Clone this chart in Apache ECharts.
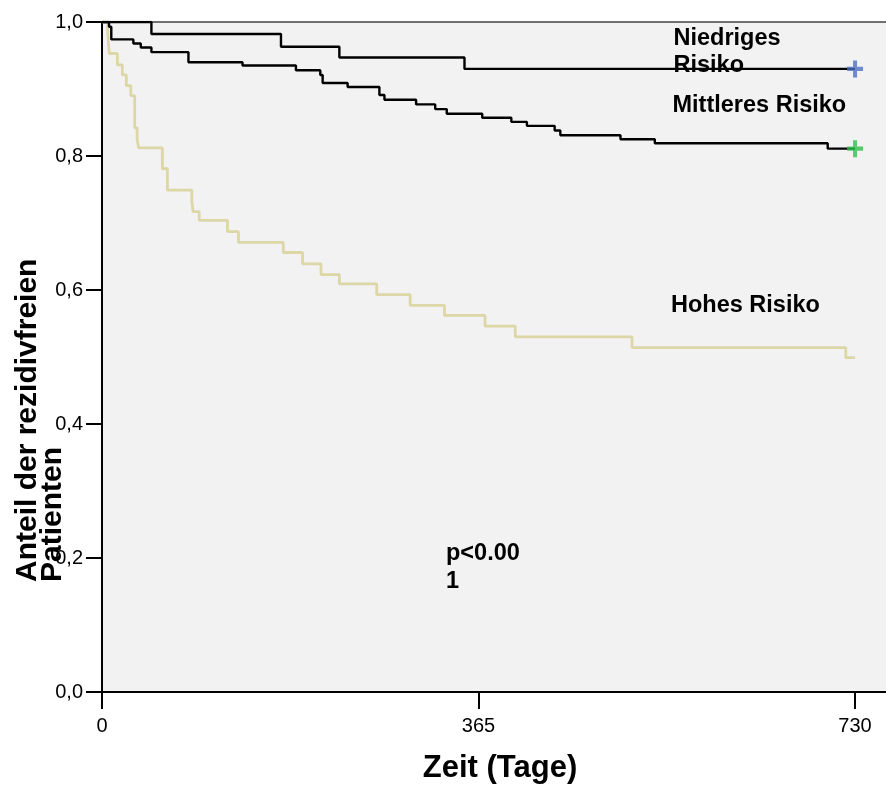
<!DOCTYPE html>
<html lang="de">
<head>
    <meta charset="UTF-8">
    <title>Rezidivfreies Überleben</title>
    <script type="text/javascript" src="https://cdn.jsdelivr.net/npm/echarts@6/dist/echarts.min.js"></script>
    <style>
        html, body { margin: 0; padding: 0; background: #fff; }
        #chart { width: 886px; height: 788px; }
    </style>
</head>
<body>
<div id="chart"></div>
<script>
    // Achsen
    var xTicks = [0, 365, 730];
    var xMax = 760;

    // Niedriges Risiko
    var lowDays = [0, 47.9, 173.5, 230.1, 351.4, 730];
    var lowSurv = [1, 0.982, 0.963, 0.947, 0.930, 0.930];

    // Mittleres Risiko
    var midDays = [0, 6.8, 9.0, 30.4, 37.6, 47.9, 83.8, 136.2, 188.0, 211.6, 213.9, 238.1, 268.9, 273.8,
                   304.5, 323.0, 334.2, 368.6, 396.8, 411.9, 438.8, 444.3, 502.6, 535.9, 703.5, 730];
    var midSurv = [1, 0.993, 0.974, 0.968, 0.962, 0.955, 0.940, 0.935, 0.928, 0.921, 0.909, 0.903, 0.891, 0.884,
                   0.877, 0.870, 0.863, 0.857, 0.851, 0.845, 0.838, 0.831, 0.825, 0.819, 0.811, 0.811];

    // Hohes Risiko
    var highDays = [0, 5.5, 6.2, 7.0, 14.9, 19.7, 23.6, 27.9, 31.7, 34.0, 35.5, 58.5, 63.4, 87.1, 88.3,
                    94.2, 121.6, 132.3, 175.7, 194.4, 212.3, 230.1, 266.3, 298.7, 332.0, 371.3, 400.6,
                    513.8, 721.0, 730];
    var highSurv = [1, 0.985, 0.970, 0.953, 0.936, 0.921, 0.905, 0.890, 0.842, 0.826, 0.812, 0.781, 0.749,
                    0.732, 0.717, 0.704, 0.687, 0.671, 0.656, 0.639, 0.623, 0.609, 0.593, 0.577, 0.562,
                    0.546, 0.530, 0.514, 0.499, 0.499];

    // zensierte Fälle (+)
    var censorDays = [730, 730];
    var censorSurv = [0.930, 0.811];
    var censorColors = ['#4a6fc2', '#2fbf4c'];

    var font = "'Liberation Sans', Arial, sans-serif";
    var plus = 'path://M6,0H10V6H16V10H10V16H6V10H0V6H6Z';

    function pairs(xs, ys) {
        var out = [];
        for (var i = 0; i < xs.length; i++) out.push([xs[i], ys[i]]);
        return out;
    }

    function stepLine(xs, ys, color, width) {
        return {
            type: 'line',
            step: 'end',
            data: pairs(xs, ys),
            showSymbol: false,
            symbol: 'none',
            lineStyle: { color: color, width: width },
            z: 3
        };
    }

    var censorData = [];
    for (var i = 0; i < censorDays.length; i++) {
        censorData.push({ value: [censorDays[i], censorSurv[i]], itemStyle: { color: censorColors[i] } });
    }

    var option = {
        animation: false,
        backgroundColor: '#ffffff',
        grid: {
            left: 102, right: 0, top: 22, bottom: 96,
            show: true, backgroundColor: '#f2f2f2', borderWidth: 0
        },
        xAxis: [{
            type: 'value',
            min: 0, max: xMax,
            axisLine: { lineStyle: { color: '#000', width: 2 } },
            axisTick: { show: true, customValues: xTicks, length: 17, lineStyle: { color: '#000', width: 2 } },
            axisLabel: { customValues: xTicks, margin: 24, color: '#000', fontSize: 20, fontFamily: font },
            splitLine: { show: false }
        }, {
            // obere Rahmenlinie
            type: 'value',
            position: 'top',
            min: 0, max: xMax,
            axisLine: { show: true, lineStyle: { color: '#444', width: 1.5 } },
            axisTick: { show: false },
            axisLabel: { show: false },
            splitLine: { show: false }
        }],
        yAxis: {
            type: 'value',
            min: 0, max: 1, interval: 0.2,
            axisLine: { show: true, lineStyle: { color: '#000', width: 2 } },
            axisTick: { show: true, length: 16, lineStyle: { color: '#000', width: 2 } },
            axisLabel: {
                margin: 19, color: '#000', fontSize: 20, fontFamily: font,
                formatter: function (v) { return v.toFixed(1).replace('.', ','); }
            },
            splitLine: { show: false }
        },
        graphic: [
            {
                type: 'text', x: 500, y: 768,
                style: { text: 'Zeit (Tage)', font: 'bold 31px ' + font, fill: '#000', align: 'center', verticalAlign: 'middle' }
            },
            {
                type: 'text', x: 15.5, y: 582, rotation: Math.PI / 2,
                style: { text: 'Anteil der rezidivfreien\nPatienten', font: 'bold 30px ' + font, lineHeight: 25,
                         fill: '#000', align: 'left', verticalAlign: 'top' }
            },
            {
                type: 'text', x: 673.5, y: 25.6, z: 10,
                style: { text: 'Niedriges\nRisiko', font: 'bold 23.5px ' + font, lineHeight: 26.7,
                         fill: '#000', align: 'left', verticalAlign: 'top' }
            },
            {
                type: 'text', x: 672.5, y: 106, z: 10,
                style: { text: 'Mittleres Risiko', font: 'bold 23.5px ' + font, fill: '#000', align: 'left', verticalAlign: 'middle' }
            },
            {
                type: 'text', x: 671, y: 305.3, z: 10,
                style: { text: 'Hohes Risiko', font: 'bold 23.5px ' + font, fill: '#000', align: 'left', verticalAlign: 'middle' }
            },
            {
                type: 'text', x: 446, y: 540, z: 10,
                style: { text: 'p<0.00\n1', font: 'bold 23.5px ' + font, lineHeight: 27.5,
                         fill: '#000', align: 'left', verticalAlign: 'top' }
            }
        ],
        series: [
            stepLine(highDays, highSurv, '#ddd6a6', 2.8),
            stepLine(midDays, midSurv, '#000000', 2.4),
            stepLine(lowDays, lowSurv, '#000000', 2.4),
            {
                type: 'scatter',
                data: censorData,
                symbol: plus,
                symbolSize: [16, 17],
                z: 5
            }
        ]
    };

    echarts.init(document.getElementById('chart')).setOption(option);
</script>
</body>
</html>
